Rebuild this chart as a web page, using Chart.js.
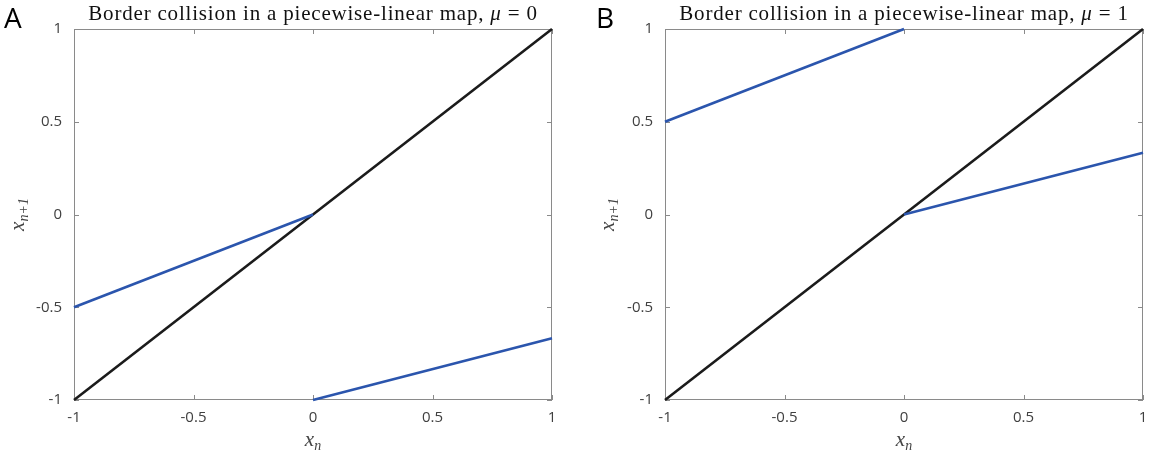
<!DOCTYPE html>
<html>
<head>
<meta charset="utf-8">
<script src="https://cdn.jsdelivr.net/npm/chart.js@4.4.1/dist/chart.umd.min.js"></script>
<style>
body { margin: 0; background: #fff; width: 1157px; height: 461px; position: relative; overflow: hidden; }
.panel { position: absolute; top: 0; height: 461px; }
</style>
</head>
<body>
<div class="panel" style="left:0;width:578px"><canvas id="chart-a"></canvas></div>
<div class="panel" style="left:578px;width:579px"><canvas id="chart-b"></canvas></div>
<script>
// tick positions (same on both axes, both panels)
const tickValues = [-1, -0.5, 0, 0.5, 1]

// identity line x_{n+1} = x_n
const diagX = [-1, 1]
const diagY = [-1, 1]

// panel A, mu = 0
const aLeftX = [-1, 0]
const aLeftY = [-0.5, 0]
const aRightX = [0, 1]
const aRightY = [-1, -0.667]

// panel B, mu = 1
const bLeftX = [-1, 0]
const bLeftY = [0.5, 1]
const bRightX = [0, 1]
const bRightY = [0, 0.333]

const blue = '#2b55ad'
const black = '#1b1b1b'
const axisGray = '#8a8a8a'
const tickText = '#404040'

function pts(xs, ys) {
    return xs.map((x, i) => ({ x: x, y: ys[i] }))
}

function line(xs, ys, color) {
    return {
        data: pts(xs, ys),
        showLine: true,
        borderColor: color,
        backgroundColor: color,
        borderWidth: 2.6,
        pointRadius: 0,
        clip: false
    }
}

// draw a string made of pieces with different fonts, centered on cx
function drawPieces(ctx, pieces, cx, cy) {
    let total = 0
    pieces.forEach(p => { ctx.font = p.font; p.w = ctx.measureText(p.text).width; total += p.w })
    let x = cx - total / 2
    pieces.forEach(p => {
        ctx.font = p.font
        ctx.fillText(p.text, x, cy + (p.dy || 0))
        x += p.w
    })
}

const frame = {
    id: 'frame',
    beforeDatasetsDraw(chart) {
        const { ctx, chartArea: a, scales: { x, y } } = chart
        ctx.save()
        ctx.strokeStyle = axisGray
        ctx.lineWidth = 1
        ctx.strokeRect(a.left + 0.5, a.top + 0.5, a.right - a.left - 1, a.bottom - a.top - 1)
        ctx.beginPath()
        tickValues.forEach(v => {
            const px = Math.round(x.getPixelForValue(v)) + 0.5
            ctx.moveTo(px, a.bottom); ctx.lineTo(px, a.bottom - 5)
            ctx.moveTo(px, a.top); ctx.lineTo(px, a.top + 5)
            const py = Math.round(y.getPixelForValue(v)) + 0.5
            ctx.moveTo(a.left, py); ctx.lineTo(a.left + 5, py)
            ctx.moveTo(a.right, py); ctx.lineTo(a.right - 5, py)
        })
        ctx.stroke()
        ctx.restore()
    },
    afterDraw(chart, args, opts) {
        const { ctx, chartArea: a } = chart
        const cx = (a.left + a.right) / 2
        ctx.save()
        ctx.fillStyle = '#111'
        ctx.textBaseline = 'alphabetic'
        ctx.textAlign = 'left'
        // title
        ctx.letterSpacing = '0.8px'
        drawPieces(ctx, [
            { text: 'Border collision in a piecewise-linear map, ', font: '21px "Liberation Serif"' },
            { text: 'μ', font: 'italic 21px "Liberation Serif"' },
            { text: ' = ' + opts.mu, font: '21px "Liberation Serif"' }
        ], cx, 20)
        ctx.letterSpacing = '0px'
        // panel letter
        ctx.fillStyle = '#000'
        ctx.font = '28px "Open Sans"'
        ctx.fillText(opts.letter, opts.letterX, 28)
        // x label
        ctx.fillStyle = '#444'
        drawPieces(ctx, [
            { text: 'x', font: 'italic 21px "Liberation Serif"' },
            { text: 'n', font: 'italic 14px "Liberation Serif"', dy: 4 }
        ], cx, 446)
        // y label
        ctx.translate(opts.ylabelX, (a.top + a.bottom) / 2)
        ctx.rotate(-Math.PI / 2)
        drawPieces(ctx, [
            { text: 'x', font: 'italic 21px "Liberation Serif"' },
            { text: 'n+1', font: 'italic 14px "Liberation Serif"', dy: 4 }
        ], 0, 5)
        ctx.restore()
    }
}

function makeChart(id, datasets, axisWidth, rightPad, mu, letter, letterX, ylabelX) {
    return new Chart(document.getElementById(id), {
        type: 'scatter',
        data: { datasets: datasets },
        plugins: [frame],
        options: {
            responsive: true,
            maintainAspectRatio: false,
            animation: false,
            layout: { padding: { top: 29, right: rightPad, left: 0, bottom: 0 } },
            plugins: {
                legend: { display: false },
                tooltip: { enabled: false },
                frame: { mu: mu, letter: letter, letterX: letterX, ylabelX: ylabelX }
            },
            scales: {
                x: {
                    type: 'linear', min: -1, max: 1,
                    grid: { display: false, drawTicks: false },
                    border: { display: false },
                    afterFit: s => { s.height = 61 },
                    afterBuildTicks: s => { s.ticks = tickValues.map(v => ({ value: v })) },
                    ticks: { color: tickText, font: { family: 'Open Sans', size: 15 }, padding: 9, maxRotation: 0, callback: v => String(v) }
                },
                y: {
                    type: 'linear', min: -1, max: 1,
                    grid: { display: false, drawTicks: false },
                    border: { display: false },
                    afterFit: s => { s.width = axisWidth },
                    afterBuildTicks: s => { s.ticks = tickValues.map(v => ({ value: v })) },
                    ticks: { color: tickText, font: { family: 'Open Sans', size: 15 }, padding: 12, callback: v => String(v) }
                }
            }
        }
    })
}

makeChart('chart-a', [
    line(aLeftX, aLeftY, blue),
    line(aRightX, aRightY, blue),
    line(diagX, diagY, black)
], 74, 26, '0', 'A', 4, 19)

makeChart('chart-b', [
    line(bLeftX, bLeftY, blue),
    line(bRightX, bRightY, blue),
    line(diagX, diagY, black)
], 87, 14, '1', 'B', 18, 31)
</script>
</body>
</html>
